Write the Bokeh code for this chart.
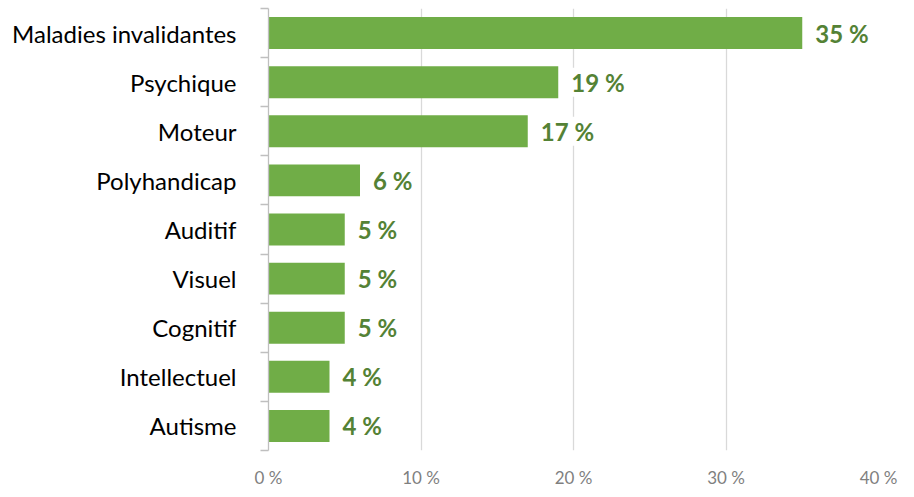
from bokeh.plotting import figure
from bokeh.models import ColumnDataSource, Range1d, FixedTicker, LabelSet
from bokeh.core.properties import value
from bokeh.embed import file_html
from bokeh.resources import INLINE

categories = ["Maladies invalidantes", "Psychique", "Moteur", "Polyhandicap", "Auditif",
              "Visuel", "Cognitif", "Intellectuel", "Autisme"]
values = [35, 19, 17, 6, 5, 5, 5, 4, 4]
value_labels = ["35 %", "19 %", "17 %", "6 %", "5 %", "5 %", "5 %", "4 %", "4 %"]
x_ticks = [0, 10, 20, 30, 40]

n = len(categories)
ypos = [n - 1 - i for i in range(n)]
src = ColumnDataSource(dict(y=ypos, v=values, lab=value_labels, cat=categories))

p = figure(width=898, height=481, output_backend="svg", toolbar_location=None,
           x_range=Range1d(0, 40), y_range=Range1d(-0.5, n - 0.5),
           min_border_left=268, min_border_right=20, min_border_top=8, min_border_bottom=31)
p.frame_width = 610
p.frame_height = 442
p.outline_line_color = None
p.background_fill_color = "white"

p.hbar(y="y", right="v", left=0, height=0.65, source=src, color="#70AD47", line_color=None)

labels = LabelSet(x="v", y="y", text="lab", source=src, x_offset=13, text_align="left",
                  text_baseline="middle", text_color="#548235", text_font_style="bold",
                  text_font_size="24px", text_font=value("Lato"), background_fill_color="white",
                  border_line_color=None)
p.add_layout(labels)

# x axis
p.xaxis.ticker = FixedTicker(ticks=x_ticks)
p.xaxis.major_label_overrides = {t: f"{t} %" for t in x_ticks}
p.xaxis.axis_line_color = None
p.xaxis.major_tick_line_color = None
p.xaxis.minor_tick_line_color = None
p.xaxis.major_label_text_color = "#7f7f7f"
p.xaxis.major_label_text_font = "Lato"
p.xaxis.major_label_text_font_size = "17px"
p.xaxis.major_label_standoff = 10
p.xgrid.ticker = FixedTicker(ticks=x_ticks)
p.xgrid.grid_line_color = "#d9d9d9"
p.xgrid.grid_line_width = 1.3

# y axis
p.yaxis.ticker = FixedTicker(ticks=ypos, minor_ticks=[i - 0.5 for i in range(n + 1)])
p.yaxis.major_label_overrides = {y: c for y, c in zip(ypos, categories)}
p.yaxis.axis_line_color = "#bfbfbf"
p.yaxis.axis_line_width = 1.3
p.yaxis.major_tick_line_color = None
p.yaxis.minor_tick_line_color = "#bfbfbf"
p.yaxis.minor_tick_line_width = 1.3
p.yaxis.minor_tick_out = 8
p.yaxis.minor_tick_in = 0
p.yaxis.major_label_text_color = "black"
p.yaxis.major_label_text_font = "Lato"
p.yaxis.major_label_text_font_size = "24px"
p.yaxis.major_label_standoff = 24
p.ygrid.grid_line_color = None

open("out.html", "w").write(file_html(p, INLINE))
